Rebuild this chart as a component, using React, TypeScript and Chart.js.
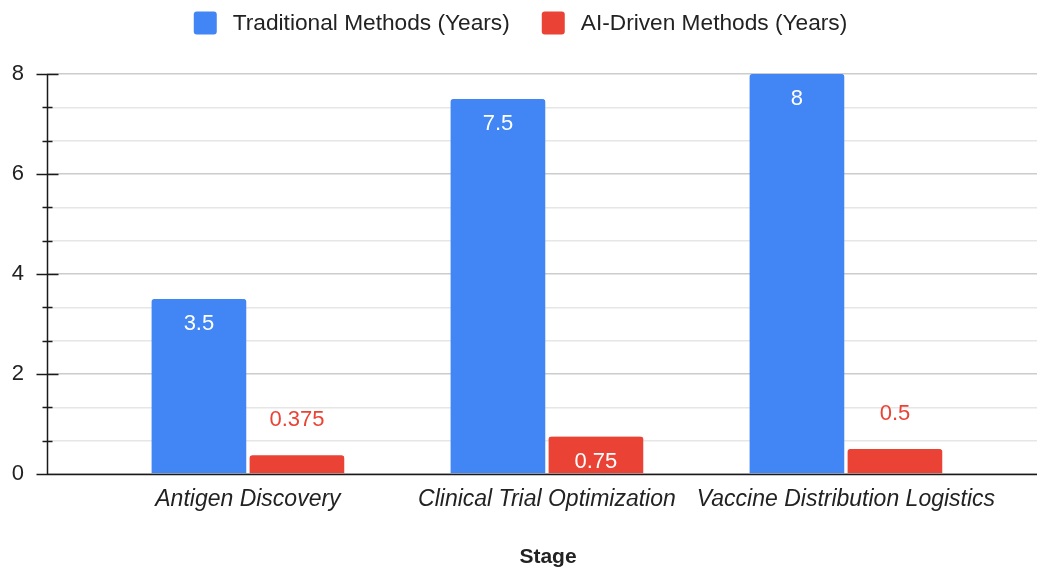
import React, { useEffect, useRef } from "react";
import { Chart, registerables } from "chart.js";

Chart.register(...registerables);

const categories = ["Antigen Discovery", "Clinical Trial Optimization", "Vaccine Distribution Logistics"];
const traditionalYears = [3.5, 7.5, 8];
const aiDrivenYears = [0.375, 0.75, 0.5];
const seriesNames = ["Traditional Methods (Years)", "AI-Driven Methods (Years)"];
const seriesColors = ["#4285F4", "#EA4335"];
const yTickLabels = ["0", "2", "4", "6", "8"];
const yMinorPerMajor = 3;
const yMajorStep = 2;
const xTitle = "Stage";

const FONT = "'Liberation Sans', Arial, sans-serif";
const TEXT = "#222222";

const valueLabelPlugin = {
  id: "valueLabels",
  afterDatasetsDraw(chart: any) {
    const ctx = chart.ctx;
    ctx.save();
    ctx.font = `22px ${FONT}`;
    ctx.textAlign = "center";
    ctx.textBaseline = "middle";
    chart.data.datasets.forEach((ds: any, di: number) => {
      const meta = chart.getDatasetMeta(di);
      meta.data.forEach((bar: any, i: number) => {
        const v = ds.data[i].y;
        const h = bar.base - bar.y;
        if (h > 30) {
          ctx.fillStyle = "#ffffff";
          ctx.fillText(String(v), bar.x, bar.y + 25);
        } else {
          ctx.fillStyle = seriesColors[di];
          ctx.fillText(String(v), bar.x, bar.y - 35);
        }
      });
    });
    ctx.restore();
  },
};

const axisPlugin = {
  id: "axisLines",
  afterDatasetsDraw(chart: any) {
    const ctx = chart.ctx;
    const area = chart.chartArea;
    const y = chart.scales.y;
    ctx.save();
    ctx.strokeStyle = "#1a1a1a";
    ctx.lineWidth = 1.5;
    const ax = Math.round(area.left) + 0.5;
    ctx.beginPath();
    ctx.moveTo(ax, area.top);
    ctx.lineTo(ax, area.bottom);
    y.ticks.forEach((t: any, i: number) => {
      const py = Math.round(y.getPixelForValue(t.value)) + 0.5;
      if (i % yMinorPerMajor === 0) {
        ctx.moveTo(ax - 11, py);
        ctx.lineTo(ax + 11, py);
      } else {
        ctx.moveTo(ax - 5, py);
        ctx.lineTo(ax + 5, py);
      }
    });
    const by = Math.round(area.bottom) + 0.5;
    ctx.moveTo(ax - 11, by);
    ctx.lineTo(area.right, by);
    ctx.stroke();

    // axis title
    ctx.fillStyle = TEXT;
    ctx.font = `bold 21px ${FONT}`;
    ctx.textAlign = "center";
    ctx.textBaseline = "middle";
    ctx.fillText(xTitle, (area.left + area.right) / 2 + 6, chart.height - 11);
    ctx.restore();
  },
};

const legendPlugin = {
  id: "customLegend",
  afterDraw(chart: any) {
    const ctx = chart.ctx;
    ctx.save();
    ctx.font = `22.7px ${FONT}`;
    const box = 23;
    const gap = 16;
    const itemGap = 32;
    const widths = seriesNames.map((n) => box + gap + ctx.measureText(n).width);
    const total = widths.reduce((a, b) => a + b, 0) + itemGap * (widths.length - 1);
    let x = chart.width / 2 - total / 2 + 2;
    const cy = 23;
    seriesNames.forEach((n, i) => {
      ctx.fillStyle = seriesColors[i];
      ctx.beginPath();
      (ctx as any).roundRect(x, cy - box / 2, box, box, 3);
      ctx.fill();
      ctx.fillStyle = TEXT;
      ctx.textAlign = "left";
      ctx.textBaseline = "middle";
      ctx.fillText(n, x + box + gap, cy + 1);
      x += widths[i] + itemGap;
    });
    ctx.restore();
  },
};

export default function App() {
  const ref = useRef<HTMLCanvasElement | null>(null);
  useEffect(() => {
    if (!ref.current) return;
    const mk = (vals: number[]) => vals.map((v, i) => ({ x: i, y: v }));
    const barStyle = {
      borderColor: "rgba(0,0,0,0)",
      borderWidth: { left: 2, right: 2, top: 0, bottom: 0 },
      borderRadius: 5,
      borderSkipped: "start",
      barThickness: 98,
    };
    const chart = new Chart(ref.current, {
      type: "bar",
      data: {
        datasets: [
          { label: seriesNames[0], data: mk(traditionalYears), backgroundColor: seriesColors[0], ...barStyle },
          { label: seriesNames[1], data: mk(aiDrivenYears), backgroundColor: seriesColors[1], ...barStyle },
        ] as any,
      },
      options: {
        animation: false,
        responsive: false,
        devicePixelRatio: 1,
        layout: { padding: { top: 74, left: 0, right: 0, bottom: 0 } },
        plugins: { legend: { display: false }, tooltip: { enabled: false } },
        scales: {
          x: {
            type: "linear",
            offset: false,
            min: -0.672,
            max: 2.639,
            grid: { display: false, drawTicks: false },
            border: { display: false },
            afterFit: (s: any) => {
              s.height = 94;
            },
            afterBuildTicks: (s: any) => {
              s.ticks = categories.map((_, i) => ({ value: i }));
            },
            ticks: {
              autoSkip: false,
              maxRotation: 0,
              padding: 12,
              color: TEXT,
              font: { family: FONT, size: 23, style: "italic" },
              callback: (v: any) => categories[Math.round(Number(v))] ?? "",
            },
            title: { display: false },
          },
          y: {
            min: 0,
            max: 8,
            afterFit: (s: any) => {
              s.width = 47;
            },
            afterBuildTicks: (s: any) => {
              const n = (yTickLabels.length - 1) * yMinorPerMajor;
              const arr: any[] = [];
              for (let i = 0; i <= n; i++) arr.push({ value: (i * yMajorStep) / yMinorPerMajor });
              s.ticks = arr;
            },
            grid: {
              drawTicks: false,
              color: (c: any) => (c.index % yMinorPerMajor === 0 ? "#cccccc" : "#e6e6e6"),
              lineWidth: 1.5,
            },
            border: { display: false },
            ticks: {
              padding: 23,
              color: TEXT,
              font: { family: FONT, size: 22 },
              callback: (_v: any, i: number) => (i % yMinorPerMajor === 0 ? yTickLabels[i / yMinorPerMajor] : ""),
            },
          },
        },
      },
      plugins: [valueLabelPlugin, axisPlugin, legendPlugin],
    } as any);
    return () => chart.destroy();
  }, []);
  return (
    <div style={{ position: "fixed", left: 0, top: 0, width: 1037, height: 568, background: "#fff" }}>
      <canvas ref={ref} width={1037} height={568} style={{ width: 1037, height: 568, display: "block" }} />
    </div>
  );
}
